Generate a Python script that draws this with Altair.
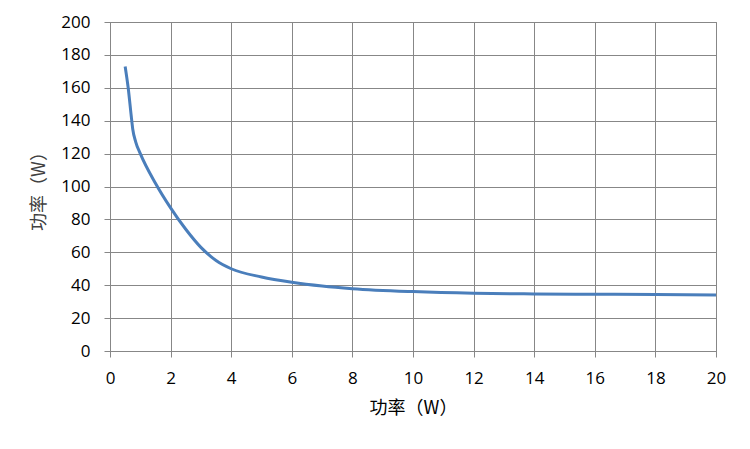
import altair as alt
import pandas as pd

xs = [0.5, 0.6, 0.7, 0.75, 0.85, 1.0, 1.5, 2.0, 2.5, 3.0, 3.5, 4.0, 5.0, 6.0, 7.0, 8.0, 10.0, 12.0, 14.0, 16.0, 18.0, 20.0]
ys = [173, 160, 143, 135, 127, 120, 102, 87, 74, 63, 55, 50, 45, 41.8, 39.5, 37.9, 36.1, 35.1, 34.7, 34.5, 34.3, 34.0]

df = pd.DataFrame({"x": xs, "y": ys})

font = "Open Sans"
grid = "#878787"

chart = alt.Chart(df).mark_line(color="#4A7EBB", strokeWidth=3, interpolate="monotone").encode(
    x=alt.X("x:Q", scale=alt.Scale(domain=[0, 20], nice=False),
            axis=alt.Axis(title="功率（W）", values=list(range(0, 21, 2)), tickSize=6,
                          labelPadding=13, titlePadding=13, labelFlush=False)),
    y=alt.Y("y:Q", scale=alt.Scale(domain=[0, 200], nice=False),
            axis=alt.Axis(title="功率（W）", values=list(range(0, 201, 20)), tickSize=6,
                          labelPadding=14, titlePadding=12, titleColor="#404040",
                          labelFlush=False)),
).properties(
    width=606, height=329,
    autosize=alt.AutoSizeParams(type="none"),
    padding={"left": 102, "top": 14, "right": 26, "bottom": 90},
).configure_axis(
    gridColor=grid, gridWidth=1, gridOpacity=1,
    domainColor=grid, tickColor=grid, domainWidth=1,
    labelFont=font, labelFontSize=17, labelColor="#000000",
    titleFont="Noto Sans CJK SC", titleFontSize=18, titleFontWeight="normal", titleColor="#000000",
).configure_view(stroke=grid, strokeWidth=1)

chart.save("out.html", embed_options={"renderer": "svg", "actions": False})
